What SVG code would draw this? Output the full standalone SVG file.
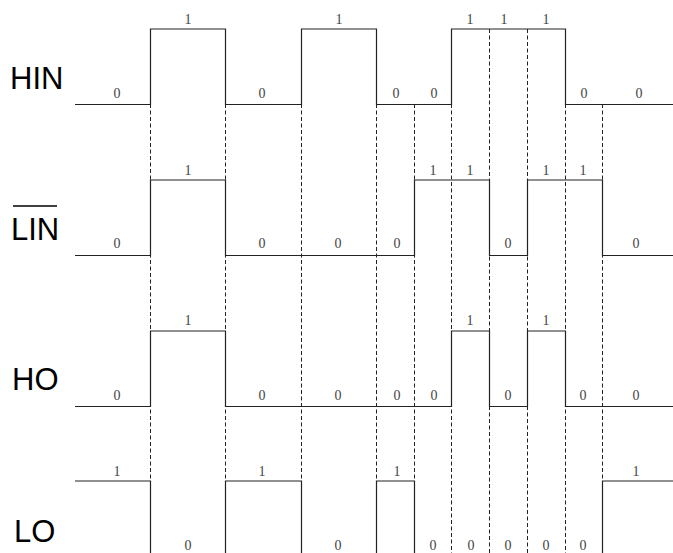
<svg xmlns="http://www.w3.org/2000/svg" width="673" height="553" viewBox="0 0 673 553">
<style>
.sig{font-family:"Liberation Sans",Arial,sans-serif;font-size:31px;fill:#000}
.v{font-family:"Liberation Serif","Times New Roman",serif;font-size:14px;fill:#444;text-anchor:middle}
.w{fill:none;stroke:#222;stroke-width:1.2}
.d{fill:none;stroke:#222;stroke-width:1;stroke-dasharray:4 2.5}
</style>
<rect width="673" height="553" fill="#fff"/>
<g id="guides">
<path class="d" d="M150.5 104V553M225.5 104V553M301.5 104V553M376.5 104V553M414.5 104V553M451.5 104V553M489.5 29V553M527.5 29V553M565.5 104V553M602.5 104V553"/>
</g>
<g id="connectors">
<polyline class="w" points="75,104.5 150.5,104.5 150.5,29 225.5,29 225.5,104.5 301.5,104.5 301.5,29 376.5,29 376.5,104.5 451.5,104.5 451.5,29 565.5,29 565.5,104.5 673,104.5"/>
<polyline class="w" points="75,255.5 150.5,255.5 150.5,180 225.5,180 225.5,255.5 414.5,255.5 414.5,180 489.5,180 489.5,255.5 527.5,255.5 527.5,180 602.5,180 602.5,255.5 673,255.5"/>
<polyline class="w" points="75,406.5 150.5,406.5 150.5,331 225.5,331 225.5,406.5 451.5,406.5 451.5,331 489.5,331 489.5,406.5 527.5,406.5 527.5,331 565.5,331 565.5,406.5 673,406.5"/>
<polyline class="w" points="75,481 150.5,481 150.5,560"/>
<polyline class="w" points="225.5,560 225.5,481 301.5,481 301.5,560"/>
<polyline class="w" points="376.5,560 376.5,481 414.5,481 414.5,560"/>
<polyline class="w" points="602.5,560 602.5,481 673,481"/>
</g>
<g id="HIN">
<text class="sig" x="10" y="88.5">HIN</text>
<text class="v" x="117" y="98">0</text>
<text class="v" x="188" y="24">1</text>
<text class="v" x="262" y="98">0</text>
<text class="v" x="339" y="24">1</text>
<text class="v" x="396" y="98">0</text>
<text class="v" x="434" y="98">0</text>
<text class="v" x="470" y="24">1</text>
<text class="v" x="504" y="24">1</text>
<text class="v" x="546" y="24">1</text>
<text class="v" x="584" y="98">0</text>
<text class="v" x="639" y="98">0</text>
</g>
<g id="LIN">
<text class="sig" x="11" y="239.5">LIN</text>
<line x1="13" y1="206" x2="57" y2="206" stroke="#000" stroke-width="1.6"/>
<text class="v" x="117" y="248">0</text>
<text class="v" x="188" y="175">1</text>
<text class="v" x="262" y="248">0</text>
<text class="v" x="338" y="248">0</text>
<text class="v" x="397" y="248">0</text>
<text class="v" x="433" y="175">1</text>
<text class="v" x="470" y="175">1</text>
<text class="v" x="508" y="248">0</text>
<text class="v" x="546" y="175">1</text>
<text class="v" x="583" y="175">1</text>
<text class="v" x="636" y="248">0</text>
</g>
<g id="HO">
<text class="sig" x="12" y="390">HO</text>
<text class="v" x="117" y="400">0</text>
<text class="v" x="188" y="325">1</text>
<text class="v" x="262" y="400">0</text>
<text class="v" x="338" y="400">0</text>
<text class="v" x="397" y="400">0</text>
<text class="v" x="434" y="400">0</text>
<text class="v" x="470" y="325">1</text>
<text class="v" x="508" y="400">0</text>
<text class="v" x="546" y="325">1</text>
<text class="v" x="583" y="400">0</text>
<text class="v" x="636" y="400">0</text>
</g>
<g id="LO">
<text class="sig" x="14" y="542">LO</text>
<text class="v" x="117" y="476">1</text>
<text class="v" x="188" y="550">0</text>
<text class="v" x="262" y="476">1</text>
<text class="v" x="338" y="550">0</text>
<text class="v" x="397" y="476">1</text>
<text class="v" x="433" y="550">0</text>
<text class="v" x="471" y="550">0</text>
<text class="v" x="508" y="550">0</text>
<text class="v" x="546" y="550">0</text>
<text class="v" x="583" y="550">0</text>
<text class="v" x="636" y="476">1</text>
</g>
</svg>
